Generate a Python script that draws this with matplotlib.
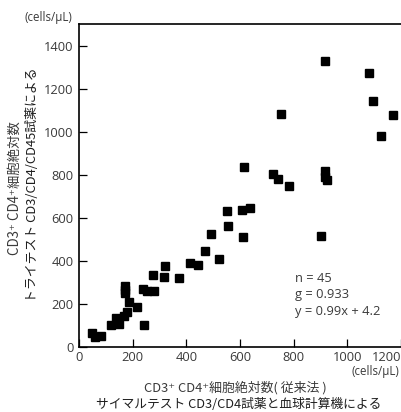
import matplotlib
matplotlib.use("Agg")
import matplotlib.pyplot as plt

plt.rcParams["font.family"] = ["Open Sans", "Noto Sans CJK JP", "DejaVu Sans"]
jp = ["Noto Sans CJK JP", "DejaVu Sans"]

# サイマルテスト (x) vs トライテスト (y), cells/uL
x_conv = [47, 59, 81, 119, 139, 149, 168, 178, 171, 171, 171, 186, 218, 243,
          239, 255, 280, 274, 315, 320, 372, 413, 443, 471, 615, 722, 741,
          782, 551, 607, 638, 554, 492, 611, 522, 918, 1079, 1094, 752, 1172,
          1124, 917, 918, 925, 902]
y_tri = [66, 48, 53, 101, 135, 108, 145, 161, 283, 266, 250, 207, 187, 101,
         269, 260, 260, 333, 325, 378, 320, 390, 381, 447, 838, 804, 782,
         749, 633, 636, 647, 560, 523, 509, 410, 1327, 1271, 1143, 1084, 1076,
         980, 816, 791, 774, 517]

x_ticks = [0, 200, 400, 600, 800, 1000, 1200]
y_ticks = [0, 200, 400, 600, 800, 1000, 1200, 1400]

stats = ["n = 45", "g = 0.933", "y = 0.99x + 4.2"]

W, H = 401, 412
fig = plt.figure(figsize=(W / 100, H / 100), dpi=100)
ax = fig.add_axes([79 / W, 1 - 347 / H, (W - 79) / W, (347 - 24) / H])

ax.plot(x_conv, y_tri, "s", color="black", markersize=5.2, clip_on=False)

ax.set_xlim(0, 1197)
ax.set_ylim(0, 1500)
ax.set_xticks(x_ticks)
ax.set_yticks(y_ticks)
ax.tick_params(direction="in", length=6, width=0.9, colors="black",
               labelcolor="#3a3a3a", labelsize=9.3)
ax.tick_params(axis="x", pad=3)
ax.tick_params(axis="y", pad=4)
ax.get_xticklabels()[-1].set_ha("right")
for s in ["left", "bottom", "top"]:
    ax.spines[s].set_linewidth(1.2)
ax.spines["right"].set_visible(False)

gray = "#3a3a3a"
for i, t in enumerate(stats):
    fig.text(295 / W, 1 - (278 + i * 16.5) / H, t, fontsize=9.3, color=gray,
             va="center", ha="left")

fig.text(48 / W, 1 - 18 / H, "(cells/μL)", fontsize=8.3, color=gray,
         ha="center", va="center")
fig.text(375 / W, 1 - 372 / H, "(cells/μL)", fontsize=8.3, color=gray,
         ha="center", va="center")

# y label (two lines)
fig.text(15 / W, 1 - 188 / H, "CD3⁺ CD4⁺細胞絶対数", fontsize=9.6, color=gray,
         rotation=90, ha="center", va="center", family=jp)
fig.text(33 / W, 1 - 185 / H, "トライテスト CD3/CD4/CD45試薬による",
         fontsize=9.3, color="#1e1e1e", rotation=90, ha="center", va="center",
         family=jp)

# x label (two lines)
fig.text(235 / W, 1 - 388 / H, "CD3⁺ CD4⁺細胞絶対数( 従来法 )", fontsize=9.3,
         color=gray, ha="center", va="center", family=jp)
fig.text(239 / W, 1 - 404 / H, "サイマルテスト CD3/CD4試薬と血球計算機による",
         fontsize=9.2, color="#1e1e1e", ha="center", va="center", family=jp)

fig.savefig("out.png", dpi=100)
